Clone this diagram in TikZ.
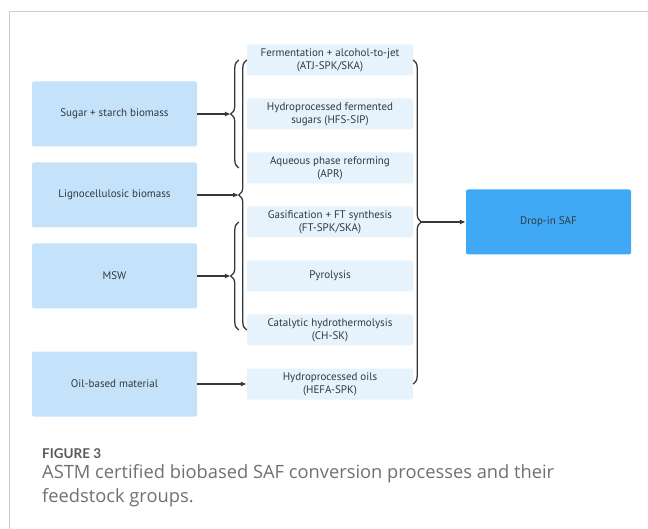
\documentclass[tikz,border=0pt]{standalone}
\usepackage{fontspec}
\setmainfont{PT Sans}
\newfontfamily\capfont{Open Sans}
\newfontfamily\figfont{Lato}
\usetikzlibrary{decorations.pathreplacing,arrows.meta}
\definecolor{feedblue}{HTML}{C4E2FA}
\definecolor{procblue}{HTML}{E6F3FD}
\definecolor{safblue}{HTML}{40A9F5}
\definecolor{linegray}{HTML}{33383D}
\definecolor{framegray}{HTML}{CCCCCC}
\definecolor{capgray}{HTML}{707070}
\definecolor{figgray}{HTML}{5A5A5A}

\begin{document}
\begin{tikzpicture}[x=1pt,y=-1pt,
  feed/.style={fill=feedblue,rounded corners=2pt,minimum width=165pt,minimum height=65pt,
    inner sep=0pt,font=\fontsize{11}{13}\selectfont,text=linegray},
  proc/.style={fill=procblue,rounded corners=2pt,minimum width=166pt,minimum height=31pt,
    inner sep=0pt,align=center,font=\fontsize{11}{13}\selectfont,text=linegray},
  safbox/.style={feed,fill=safblue},
  brc/.style={draw=linegray,line width=1.3pt,decorate,decoration={brace,amplitude=8pt}},
  arr/.style={draw=linegray,line width=1.3pt,-{Latex[length=6pt,width=5pt]}},
  captxt/.style={anchor=base west,inner sep=0pt,text=capgray,font=\capfont\fontsize{18.3}{24}\selectfont}]

  \useasboundingbox (0,0) rectangle (648,529);
  \draw[framegray,line width=0.8pt] (648,11) -- (9,11) -- (9,529);

  % feedstocks
  \node[feed] (sugar) at (114.5,114) {Sugar + starch biomass};
  \node[feed] (ligno) at (114.5,195) {Lignocellulosic biomass};
  \node[feed] (msw) at (114.5,276) {MSW};
  \node[feed] (oil) at (114.5,384) {Oil-based material};

  % processes
  \node[proc] (atj) at (330,60) {Fermentation + alcohol-to-jet\\(ATJ-SPK/SKA)};
  \node[proc] (hfs) at (330,114) {Hydroprocessed fermented\\sugars (HFS-SIP)};
  \node[proc] (apr) at (330,168) {Aqueous phase reforming\\(APR)};
  \node[proc] (ft) at (330,222) {Gasification + FT synthesis\\(FT-SPK/SKA)};
  \node[proc] (pyr) at (330,276) {Pyrolysis};
  \node[proc] (ch) at (330,330) {Catalytic hydrothermolysis\\(CH-SK)};
  \node[proc] (hefa) at (330,384) {Hydroprocessed oils\\(HEFA-SPK)};

  \node[safbox] (saf) at (548.5,222) {Drop-in SAF};

  % braces
  \draw[brc] ([xshift=-8pt]apr.west) -- ([xshift=-8pt]atj.west);
  \draw[brc] (ch.west) -- (atj.west);
  \draw[brc] ([xshift=-8pt]ch.west) -- ([xshift=-8pt]ft.west);
  \draw[brc] (atj.east) -- (hefa.east);

  \coordinate (tsugar) at ([xshift=-16pt]hfs.west);
  \coordinate (tligno) at (239,195);
  \coordinate (tmsw) at ([xshift=-16pt]pyr.west);
  \coordinate (tsaf) at ([xshift=8pt]ft.east);

  \draw[arr] (sugar) -- (tsugar);
  \draw[arr] (ligno) -- (tligno);
  \draw[arr] (msw) -- (tmsw);
  \draw[arr] (oil) -- (hefa);
  \draw[arr] (tsaf) -- (saf);

  % caption
  \node[anchor=base west,inner sep=0pt,text=figgray,font=\figfont\bfseries\fontsize{13.5}{16}\selectfont] (fig) at (42,458) {FIGURE 3};
  \node[captxt] (cap1) at (42,478) {ASTM certified biobased SAF conversion processes and their};
  \node[captxt] (cap2) at (42,502) {feedstock groups.};

\end{tikzpicture}
\end{document}
